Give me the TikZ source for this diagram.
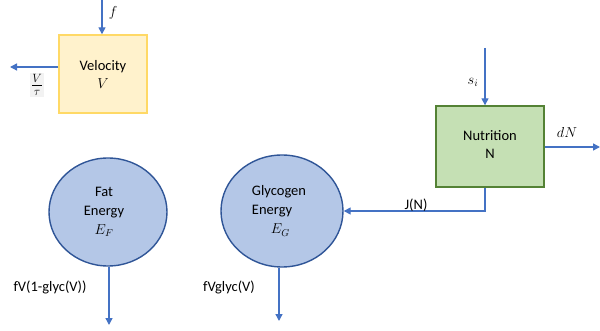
\documentclass[tikz,border=0pt]{standalone}
\usepackage{fontspec}
\setmainfont{Carlito}
\usetikzlibrary{arrows.meta,shapes.geometric}
\definecolor{arr}{HTML}{4472C4}
\definecolor{yfill}{HTML}{FFF2CC}
\definecolor{ydraw}{HTML}{FFD966}
\definecolor{gfill}{HTML}{C5E0B4}
\definecolor{gdraw}{HTML}{548235}
\definecolor{bfill}{HTML}{B4C7E7}
\definecolor{bdraw}{HTML}{2F5597}
\tikzset{
  flow/.style={draw=arr, line width=1.4pt, -{Triangle[length=7pt,width=7pt]}},
  lbl/.style={font=\fontsize{14.5}{17}\selectfont, inner sep=1pt},
  boxtext/.style={align=center, font=\fontsize{14.5}{18}\selectfont},
  ybox/.style={draw=ydraw, fill=yfill, line width=1.4pt, minimum width=88pt, minimum height=78pt, boxtext},
  gbox/.style={draw=gdraw, fill=gfill, line width=1.4pt, minimum width=108pt, minimum height=81pt, boxtext},
  pool/.style={ellipse, draw=bdraw, fill=bfill, line width=1.4pt, inner sep=0pt, font=\fontsize{14.5}{19}\selectfont},
}
\begin{document}
\begin{tikzpicture}[x=1pt,y=-1pt]
\useasboundingbox (0,0) rectangle (600,331);
% Velocity
\node[ybox] (vel) at (103,74) {Velocity\\$V$};
\coordinate (ftop) at (102,0);
\coordinate (vout) at (10,67);
\draw[flow] (ftop) -- (ftop |- vel.north);
\draw[flow] (vel.west |- vout) -- (vout);
\node[lbl] (flab) at (113,13) {$f$};
\node[fill=gray!10, inner sep=1.5pt, font=\fontsize{18}{20}\selectfont] (vtlab) at (37,85) {$\frac{V}{\tau}$};
% Nutrition
\node[gbox] (nut) at (490,146.5) {};
\node[boxtext] (nuttext) at (490,144) {Nutrition\\N};
\coordinate (stop) at (485,48);
\coordinate (dout) at (600,147);
\draw[flow] (stop) -- (stop |- nut.north);
\draw[flow] (nut.east |- dout) -- (dout);
\node[lbl] (slab) at (473,82) {$s_i$};
\node[lbl] (dlab) at (567,133) {$dN$};
% Energy pools
\node[pool, align=center, minimum width=118pt, minimum height=108pt] (fat) at (108,212) {};
\node[align=center, font=\fontsize{14.5}{19}\selectfont] (fattext) at (104,212) {Fat\\Energy\\$E_F$};
\node[pool, minimum width=122pt, minimum height=112pt] (gly) at (282,211) {};
\node[align=left, font=\fontsize{14.5}{19}\selectfont] (glytext) at (279,211) {Glycogen\\Energy\\\hspace*{19pt}$E_G$};
\draw[flow] (nut.south -| stop) |- (gly.east);
\node[lbl] (jlab) at (416,205) {J(N)};
\coordinate (fatout) at (109,325);
\coordinate (glyout) at (279,321);
\draw[flow] (fat.south -| fatout) -- (fatout);
\draw[flow] (gly.south -| glyout) -- (glyout);
\node[lbl] (fatlab) at (50,287) {fV(1-glyc(V))};
\node[lbl] (glylab) at (229,287) {fVglyc(V)};
\end{tikzpicture}
\end{document}
